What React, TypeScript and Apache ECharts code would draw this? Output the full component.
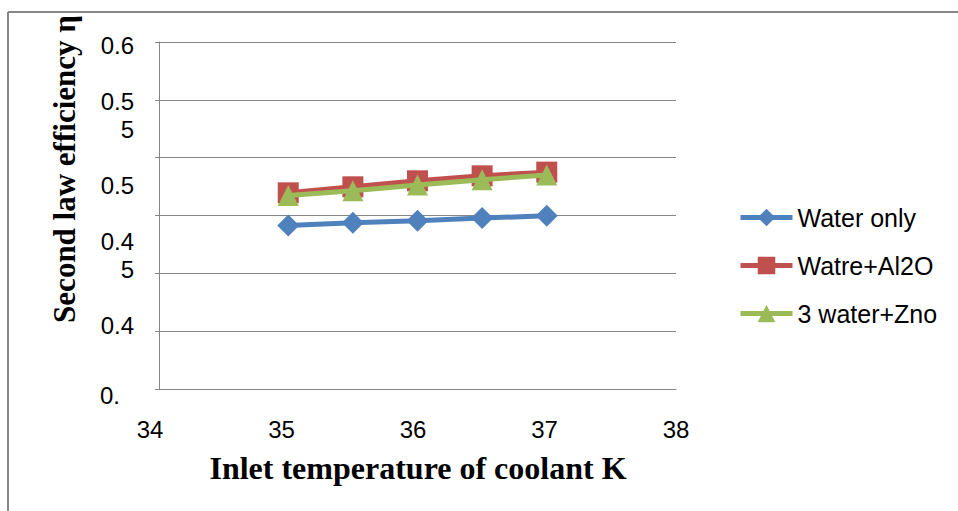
import React, { useEffect, useRef } from "react";
import * as echarts from "echarts";

const xValues = [35, 35.5, 36, 36.5, 37];
const waterOnly = [0.4414, 0.4437, 0.4454, 0.4478, 0.4497];
const waterAl2O = [0.4696, 0.4748, 0.480, 0.4843, 0.4875];
const waterZno = [0.4672, 0.4714, 0.4763, 0.4809, 0.485];
const seriesNames = ["Water only", "Watre+Al2O", "3 water+Zno"];
const colors = ["#4F81BD", "#C0504D", "#9BBB59"];
const symbols = ["diamond", "rect", "triangle"];
const yTickLabels = ["0.", "0.4", "0.4\n5", "0.5", "0.5\n5", "0.6"];
const yTitle = "Second law efficiency η";
const xTitle = "Inlet temperature of coolant K";

const SANS = "'Liberation Sans', Arial, sans-serif";
const SERIF = "'Liberation Serif', 'Times New Roman', serif";

export default function App() {
  const ref = useRef<HTMLDivElement>(null);
  useEffect(() => {
    if (!ref.current) return;
    const chart = echarts.init(ref.current, null, { renderer: "svg" });
    const allData = [waterOnly, waterAl2O, waterZno];
    chart.setOption({
      animation: false,
      backgroundColor: "#ffffff",
      grid: [
        { left: 159, top: 42, width: 517, height: 347, containLabel: false },
        { left: 150, top: 45, width: 526, height: 350, containLabel: false },
      ],
      xAxis: [
        {
          gridIndex: 0,
          type: "value",
          min: 34,
          max: 38,
          interval: 1,
          axisLabel: { show: false },
          axisTick: { show: false },
          splitLine: { show: false },
          axisLine: { show: true, lineStyle: { color: "#868686", width: 1 } },
        },
        {
          gridIndex: 1,
          type: "value",
          min: 34,
          max: 38,
          interval: 1,
          axisLine: { show: false },
          axisTick: { show: false },
          splitLine: { show: false },
          axisLabel: { show: true, fontSize: 24, fontFamily: SANS, color: "#000", margin: 22 },
        },
      ],
      yAxis: [
        {
          gridIndex: 0,
          type: "value",
          min: 0.3,
          max: 0.6,
          interval: 0.05,
          axisLabel: { show: false },
          axisLine: { show: true, lineStyle: { color: "#868686", width: 1 } },
          axisTick: { show: true, length: 4, lineStyle: { color: "#868686" } },
          splitLine: { show: true, lineStyle: { color: "#868686", width: 1 } },
        },
        {
          gridIndex: 1,
          type: "value",
          min: 0.35,
          max: 0.6,
          interval: 0.05,
          axisLine: { show: false },
          axisTick: { show: false },
          splitLine: { show: false },
          axisLabel: {
            show: true,
            fontSize: 24,
            lineHeight: 28,
            fontFamily: SANS,
            color: "#000",
            margin: 16,
            align: "right",
            formatter: (_v: number, i: number) =>
              i === 0 ? `{p|${yTickLabels[i]}}` : yTickLabels[i],
            rich: {
              p: { fontSize: 24, fontFamily: SANS, color: "#000", padding: [0, 14, 0, 0] },
            },
          },
        },
      ],
      legend: {
        orient: "vertical",
        left: 738,
        top: 205,
        padding: 0,
        itemWidth: 52,
        itemHeight: 22,
        itemGap: 23,
        data: seriesNames,
        lineStyle: { width: 5 },
        textStyle: { fontSize: 25, fontFamily: SANS, color: "#000", lineHeight: 24 },
      },
      series: seriesNames.map((name, k) => ({
        name,
        type: "line",
        xAxisIndex: 0,
        yAxisIndex: 0,
        data: xValues.map((x, i) => [x, allData[k][i]]),
        symbol: symbols[k],
        symbolSize: k === 0 ? 22 : 21,
        lineStyle: { width: 5, color: colors[k] },
        itemStyle: { color: colors[k] },
        z: 2 + k,
      })),
      graphic: [
        {
          type: "text",
          x: 64,
          y: 169,
          rotation: Math.PI / 2,
          style: {
            text: yTitle,
            font: `bold 31px ${SERIF}`,
            fill: "#000",
            align: "center",
            verticalAlign: "middle",
          },
          z: 10,
        },
        {
          type: "text",
          x: 418,
          y: 468,
          style: {
            text: xTitle,
            font: `bold 32px ${SERIF}`,
            fill: "#000",
            align: "center",
            verticalAlign: "middle",
          },
          z: 10,
        },
        {
          type: "rect",
          shape: { x: 0, y: 0, width: 958, height: 11 },
          style: { fill: "#ffffff" },
          z: 20,
        },
        {
          type: "rect",
          shape: { x: 0, y: 0, width: 7, height: 511 },
          style: { fill: "#ffffff" },
          z: 20,
        },
        {
          type: "line",
          shape: { x1: 8, y1: 12, x2: 958, y2: 12 },
          style: { stroke: "#868686", lineWidth: 2 },
          z: 21,
        },
        {
          type: "line",
          shape: { x1: 8, y1: 12, x2: 8, y2: 511 },
          style: { stroke: "#868686", lineWidth: 2 },
          z: 21,
        },
      ],
    });
    return () => chart.dispose();
  }, []);
  return (
    <div
      ref={ref}
      style={{ position: "absolute", left: 0, top: 0, width: 958, height: 511 }}
    />
  );
}
